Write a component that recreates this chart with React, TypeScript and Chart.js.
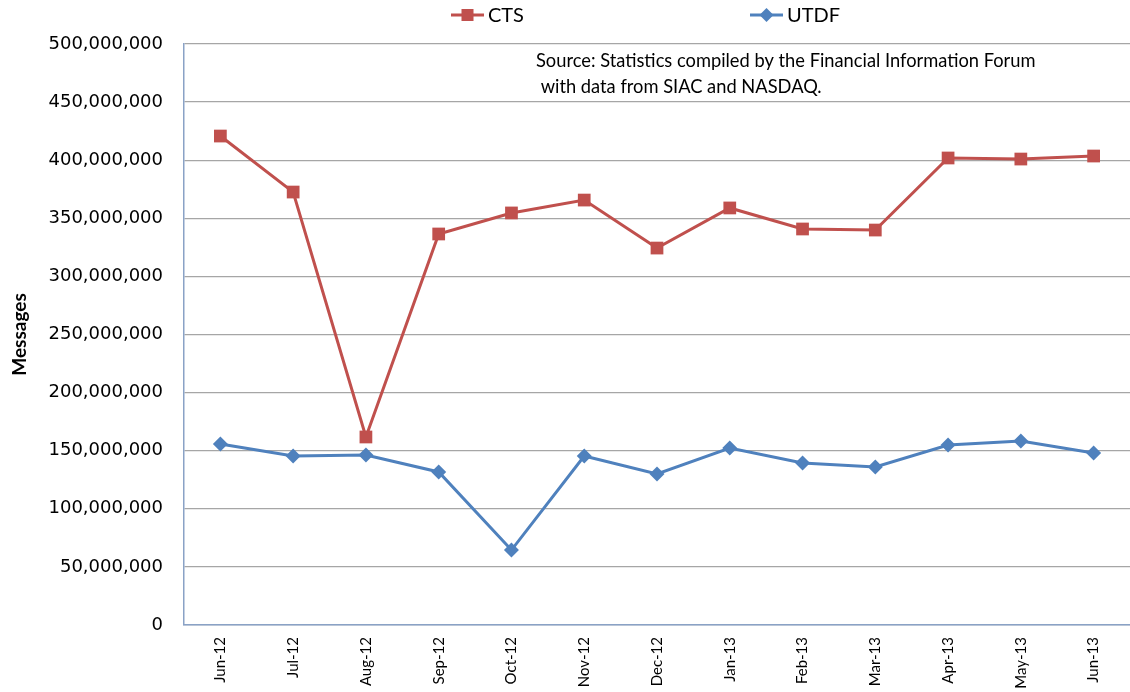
import React, { useEffect, useRef } from "react";
import { Chart, registerables } from "chart.js";
Chart.register(...registerables);

const months = ["Jun-12", "Jul-12", "Aug-12", "Sep-12", "Oct-12", "Nov-12", "Dec-12", "Jan-13", "Feb-13", "Mar-13", "Apr-13", "May-13", "Jun-13"];
const ctsValues = [420800000, 372600000, 161800000, 336500000, 354600000, 365700000, 324400000, 358900000, 340800000, 339900000, 401900000, 401000000, 403600000];
const utdfValues = [155800000, 145400000, 146300000, 131700000, 64500000, 145400000, 130000000, 152300000, 139400000, 136000000, 154900000, 158400000, 148000000];
const yMin = 0;
const yMax = 500000000;
const yStep = 50000000;
const yTitle = "Messages";
const sourceLines = ["Source: Statistics compiled by the Financial Information Forum", " with data from SIAC and NASDAQ."];

const CTS_COLOR = "#c0504d";
const UTDF_COLOR = "#4f81bd";

const customLegend = {
  id: "customLegend",
  afterDraw(chart: any) {
    const ctx = chart.ctx;
    const items = [
      { x: 451, ds: chart.data.datasets[0] },
      { x: 750, ds: chart.data.datasets[1] },
    ];
    const y = 15;
    ctx.save();
    items.forEach(({ x, ds }) => {
      ctx.strokeStyle = ds.borderColor;
      ctx.lineWidth = 3;
      ctx.beginPath();
      ctx.moveTo(x, y);
      ctx.lineTo(x + 33, y);
      ctx.stroke();
      ctx.fillStyle = ds.borderColor;
      const cx = x + 16.5;
      if (ds.pointStyle === "rect") {
        ctx.fillRect(cx - 6, y - 6, 12, 12);
      } else {
        ctx.beginPath();
        ctx.moveTo(cx, y - 7);
        ctx.lineTo(cx + 7, y);
        ctx.lineTo(cx, y + 7);
        ctx.lineTo(cx - 7, y);
        ctx.closePath();
        ctx.fill();
      }
      ctx.fillStyle = "#000";
      ctx.font = "20px Lato";
      ctx.textBaseline = "middle";
      ctx.textAlign = "left";
      ctx.fillText(ds.label, x + 37, y + 1);
    });
    ctx.font = "18.3px Lato";
    ctx.fillStyle = "#000";
    ctx.textBaseline = "middle";
    ctx.fillText(sourceLines[0], 536, 61);
    ctx.fillText(sourceLines[1], 536, 87);
    ctx.restore();
  },
};

export default function App() {
  const ref = useRef<HTMLCanvasElement | null>(null);
  useEffect(() => {
    if (!ref.current) return;
    const chart = new Chart(ref.current, {
      type: "line",
      data: {
        labels: months,
        datasets: [
          {
            label: "CTS",
            data: ctsValues,
            borderColor: CTS_COLOR,
            backgroundColor: CTS_COLOR,
            borderWidth: 3,
            pointStyle: "rect",
            pointRadius: 9,
            pointBorderWidth: 0,
            tension: 0,
          },
          {
            label: "UTDF",
            data: utdfValues,
            borderColor: UTDF_COLOR,
            backgroundColor: UTDF_COLOR,
            borderWidth: 3,
            pointStyle: "rectRot",
            pointRadius: 7.5,
            pointBorderWidth: 0,
            tension: 0,
          },
        ],
      },
      options: {
        animation: false,
        responsive: true,
        maintainAspectRatio: false,
        layout: { autoPadding: false, padding: { top: 44, left: 0, right: -3, bottom: 0 } },
        plugins: {
          legend: { display: false },
          tooltip: { enabled: false },
        },
        scales: {
          x: {
            offset: true,
            afterFit: (s: any) => {
              s.height = 67;
            },
            grid: { display: false, drawTicks: false },
            border: { color: "#8aa2c6", width: 1.5 },
            ticks: {
              color: "#000",
              font: { family: "Lato", size: 15 },
              maxRotation: 90,
              minRotation: 90,
              padding: 12,
              autoSkip: false,
            },
          },
          y: {
            min: yMin,
            max: yMax,
            afterFit: (s: any) => {
              s.width = 184;
            },
            grid: { color: "#a6a6a6", lineWidth: 1.3, drawTicks: false },
            border: { color: "#8aa2c6", width: 1.5 },
            ticks: {
              stepSize: yStep,
              color: "#000",
              font: { family: "'DejaVu Sans'", size: 18 },
              padding: 21,
              callback: (v: any) => Number(v).toLocaleString("en-US"),
            },
            title: {
              display: true,
              text: yTitle,
              color: "#000",
              font: { family: "Lato", size: 19, weight: "bold" },
              padding: { top: 8, bottom: 0 },
            },
          },
        },
      },
      plugins: [customLegend],
    });
    return () => chart.destroy();
  }, []);
  return (
    <div style={{ position: "fixed", left: 0, top: 0, width: 1130, height: 692, background: "#fff" }}>
      <canvas ref={ref} />
    </div>
  );
}
